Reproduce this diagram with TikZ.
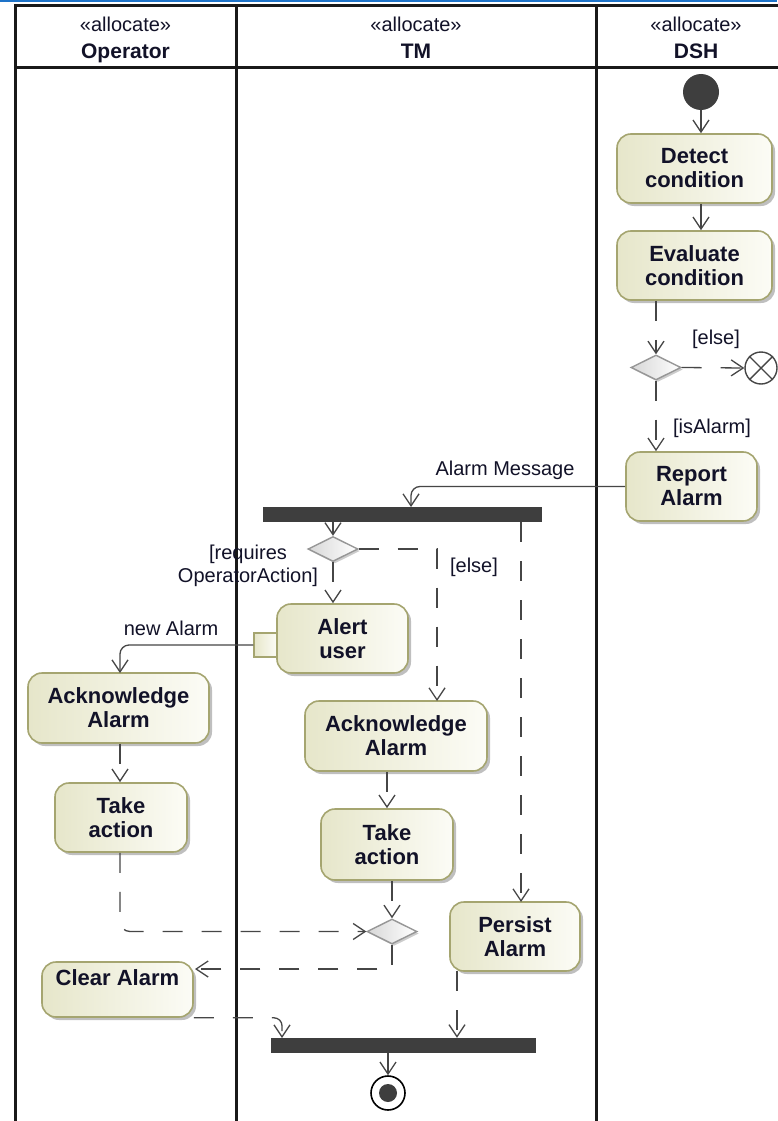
\documentclass[tikz,border=0pt]{standalone}
\usepackage{fontspec}
\setmainfont{Liberation Sans}
\usetikzlibrary{arrows.meta,shadows,shapes.geometric}
\definecolor{actfill}{RGB}{230,230,202}
\definecolor{actlight}{RGB}{252,252,246}
\definecolor{actborder}{RGB}{165,165,112}
\definecolor{linec}{RGB}{70,70,70}
\definecolor{txt}{RGB}{18,18,40}
\definecolor{barc}{RGB}{62,62,62}
\definecolor{lanec}{RGB}{25,25,25}
\definecolor{selblue}{RGB}{30,115,200}
\definecolor{decfill}{RGB}{215,215,215}
\definecolor{decborder}{RGB}{150,150,150}
\begin{document}
\begin{tikzpicture}[x=1pt,y=-1pt,
  act/.style={draw=actborder, line width=1.6pt, rounded corners=14pt,
    left color=actfill, right color=actlight,
    drop shadow={shadow xshift=3pt, shadow yshift=-3pt, opacity=0.25, fill=black},
    align=center, font=\fontsize{22}{24}\selectfont\bfseries, text=txt, inner sep=0pt},
  dec/.style={diamond, aspect=2, draw=decborder, line width=1.4pt, left color=decfill, right color=white,
    minimum width=50pt, minimum height=25pt, inner sep=0pt,
    drop shadow={shadow xshift=2pt, shadow yshift=-2pt, opacity=0.2, fill=black}},
  bar/.style={fill=barc, draw=none, minimum height=15pt, inner sep=0pt},
  pinbox/.style={draw=actborder, line width=1.4pt, left color=actfill, right color=actlight,
    minimum width=23pt, minimum height=24pt, inner sep=0pt},
  lbl/.style={font=\fontsize{20}{23}\selectfont, text=txt, align=center, inner sep=0pt},
  hdr/.style={font=\fontsize{20}{22}\selectfont, text=txt, anchor=base, inner sep=0pt},
  hdrname/.style={font=\fontsize{21}{23}\selectfont\bfseries, text=txt, anchor=base, inner sep=0pt},
  lane/.style={draw=lanec, line width=3pt},
  flow/.style={draw=linec, line width=1.3pt, -{Straight Barb[length=12pt,width=16pt]}},
  cflow/.style={flow, dash pattern=on 20pt off 19pt},
  oflow/.style={flow, rounded corners=9pt}
]
\useasboundingbox (0,0) rectangle (777,1121);
\fill[white] (0,0) rectangle (777,1121);
\fill[selblue] (0,0) rectangle (777,2.5);

% swimlane frame
\draw[lane] (15,1130) -- (15,6) -- (800,6);
\draw[lane] (15,68) -- (800,68);
\draw[lane] (236,6) -- (236,1130);
\draw[lane] (596,6) -- (596,1130);

\node[hdr] (hop) at (125.5,32) {«allocate»};
\node[hdrname] (hopn) at (125.5,59) {Operator};
\node[hdr] (htm) at (416,32) {«allocate»};
\node[hdrname] (htmn) at (416,59) {TM};
\node[hdr] (hdsh) at (696,32) {«allocate»};
\node[hdrname] (hdshn) at (696,59) {DSH};

% DSH lane
\node[circle, fill=barc, minimum size=36pt, inner sep=0pt] (init) at (701,92) {};
\node[act, minimum width=155pt, minimum height=69pt] (detect) at (694.5,168.5) {Detect\\condition};
\node[act, minimum width=155pt, minimum height=69pt] (eval) at (694.5,265.5) {Evaluate\\condition};
\node[dec] (d1) at (656,367.5) {};
\node[circle, draw=linec, line width=1.4pt, fill=white, minimum size=32pt, inner sep=0pt] (ff) at (761,368) {};
\draw[linec, line width=1.4pt] (ff.north west) -- (ff.south east) (ff.north east) -- (ff.south west);
\node[act, minimum width=131pt, minimum height=69pt] (report) at (691.5,486.5) {Report\\Alarm};

% TM lane
\node[bar, minimum width=279pt] (fork) at (402.5,514.5) {};
\node[dec] (d2) at (333,549) {};
\node[act, minimum width=131pt, minimum height=69pt] (alert) at (342.5,638.5) {Alert\\user};
\node[pinbox] (pin) at (265.5,645) {};
\node[act, minimum width=182pt, minimum height=70pt] (ackT) at (396,736) {Acknowledge\\Alarm};
\node[act, minimum width=132pt, minimum height=71pt] (takeT) at (387,844.5) {Take\\action};
\node[dec] (merge) at (392,931.5) {};
\node[act, minimum width=130pt, minimum height=69pt] (persist) at (515,936.5) {Persist\\Alarm};
\node[bar, minimum width=265pt] (join) at (403.5,1045.5) {};
\node[circle, draw=black, line width=1.6pt, fill=white, minimum size=34pt, inner sep=0pt] (final) at (388,1093) {};
\node[circle, fill=barc, minimum size=18pt, inner sep=0pt] (finalin) at (final.center) {};

% Operator lane
\node[act, minimum width=181pt, minimum height=70pt] (ackO) at (118.5,708) {Acknowledge\\Alarm};
\node[act, minimum width=132pt, minimum height=69pt] (takeO) at (121,817.5) {Take\\action};
\node[act, minimum width=151pt, minimum height=55pt] (clear) at (117.5,989.5) {Clear Alarm\\[0pt]\phantom{X}};

% connection points
\coordinate (amin) at (411,507);
\coordinate (ackTin) at (437,701);
\coordinate (persin) at (521,902);
\coordinate (ackOin) at (120,673);
\coordinate (clin) at (195,969);
\coordinate (joinin) at (282,1038);
\coordinate (persout) at (457,971);

% flows DSH
\draw[flow] (init) -- (init |- detect.north);
\draw[flow] (init |- detect.south) -- (init |- eval.north);
\draw[cflow] (d1 |- eval.south) -- (d1.north);
\draw[cflow] (d1.east) -- (ff.west);
\draw[cflow] (d1.south) -- (d1 |- report.north);
\node[lbl] (lelse1) at (716,339) {[else]};
\node[lbl] (lisalarm) at (712,428) {[isAlarm]};
\draw[oflow] (report.west) -| (amin);
\node[lbl] (lam) at (505,470) {Alarm Message};

% flows TM
\draw[flow] (fork.south -| d2) -- (d2.north);
\draw[cflow] (d2.south) -- (d2 |- alert.north);
\node[lbl] (lreq) at (248,566) {[requires\\OperatorAction]};
\draw[cflow] (d2.east) -| (ackTin);
\node[lbl] (lelse2) at (474,567) {[else]};
\draw[cflow] (fork.south -| persin) -- (persin);
\draw[oflow] (pin.west) -| (ackOin);
\node[lbl] (lnew) at (171,628) {new Alarm};
\draw[cflow] (takeT.north |- ackT.south) -- (takeT.north);
\draw[cflow] (merge.north |- takeT.south) -- (merge.north);
\draw[cflow, rounded corners=10pt] (ackOin |- takeO.south) |- (merge.west);
\draw[cflow] (merge.south) |- (clin);
\draw[cflow, rounded corners=8pt] (clear.south east) -| (joinin);
\draw[cflow] (persout) -- (join.north -| persout);
\draw[flow] (final |- join.south) -- (final.north);

% Operator flows
\draw[cflow] (ackOin |- ackO.south) -- (ackOin |- takeO.north);
\end{tikzpicture}
\end{document}
